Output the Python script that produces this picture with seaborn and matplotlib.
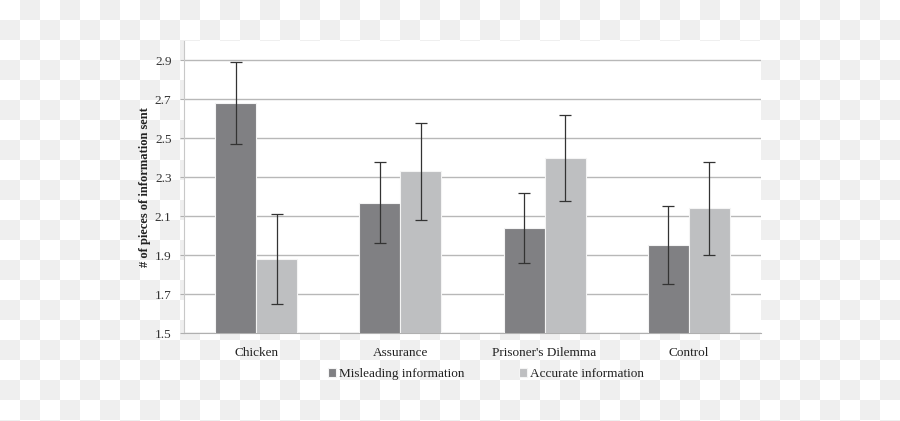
import numpy as np
import pandas as pd
import seaborn as sns
import matplotlib.pyplot as plt

# data
categories = ["Chicken", "Assurance", "Prisoner's Dilemma", "Control"]
series = ["Misleading information", "Accurate information"]
misleading = [2.68, 2.17, 2.04, 1.95]
accurate = [1.88, 2.33, 2.40, 2.14]
misleading_low = [2.47, 1.96, 1.86, 1.75]
misleading_high = [2.89, 2.38, 2.22, 2.15]
accurate_low = [1.65, 2.08, 2.18, 1.90]
accurate_high = [2.11, 2.58, 2.62, 2.38]
yticks = [1.5, 1.7, 1.9, 2.1, 2.3, 2.5, 2.7, 2.9]

df = pd.DataFrame({
    "Condition": categories * 2,
    "Type": [series[0]] * 4 + [series[1]] * 4,
    "Value": misleading + accurate,
})

sns.set_style("white")
plt.rcParams["font.family"] = ["Liberation Serif", "DejaVu Serif"]

fig = plt.figure(figsize=(9, 4.21), dpi=100)

# checkerboard backdrop (transparent-image look)
bg = fig.add_axes([0, 0, 1, 1])
rows, cols = 22, 45
board = np.ones((rows, cols, 3))
ii, jj = np.indices((rows, cols))
board[(ii + jj) % 2 == 1] = 0xef / 255
bg.imshow(board, extent=(0, cols * 20, rows * 20, 0), interpolation="nearest", aspect="auto")
bg.set_xlim(0, 900)
bg.set_ylim(421, 0)
bg.axis("off")

ax = fig.add_axes([184 / 900, 88 / 421, 577 / 900, 292 / 421])
ax.set_facecolor("white")

palette = ["#7f7f83", "#bebfc1"]
sns.barplot(data=df, x="Condition", y="Value", hue="Type", order=categories,
            hue_order=series, palette=palette, width=0.57, errorbar=None,
            edgecolor="#f4f4f4", linewidth=0.8, ax=ax, zorder=3)

lows = [misleading_low, accurate_low]
highs = [misleading_high, accurate_high]
vals = [misleading, accurate]
bar_groups = list(ax.containers)
for k, cont in enumerate(bar_groups):
    xs = [p.get_x() + p.get_width() / 2 for p in cont.patches]
    v = np.array(vals[k])
    yerr = [v - np.array(lows[k]), np.array(highs[k]) - v]
    ax.errorbar(xs, v, yerr=yerr, fmt="none", ecolor="#333333",
                elinewidth=0.9, capsize=4, capthick=0.9, zorder=4)

ax.set_ylim(1.5, 3.0)
ax.set_xlim(-0.5, 3.5)
ax.set_yticks(yticks)
ax.set_yticklabels([f"{t:.1f}" for t in yticks])
ax.grid(axis="y", color="#b8b8b8", linewidth=1, zorder=0)
ax.set_axisbelow(True)
for s in ["top", "right"]:
    ax.spines[s].set_visible(False)
ax.spines["left"].set_color("#c8c8c8")
ax.spines["bottom"].set_color("#b0b0b0")

ax.set_xticks(range(4))
ax.set_xticks([-0.5, 0.5, 1.5, 2.5, 3.5], minor=True)
ax.tick_params(axis="x", which="major", length=0, pad=10, labelsize=9.5, labelcolor="#222222")
ax.tick_params(axis="x", which="minor", length=3, color="#b0b0b0", direction="out")
ax.tick_params(axis="y", length=3, color="#b0b0b0", pad=6, labelsize=9.5, labelcolor="#333333", left=True)

ax.set_xlabel("")
ax.set_ylabel("# of pieces of information sent", fontsize=9, fontweight="bold", color="#222222")
ax.yaxis.set_label_coords(-0.058, 0.5)

ax.legend(loc="center", bbox_to_anchor=(486 / 900, 47 / 421), bbox_transform=fig.transFigure,
          ncol=2, frameon=False, fontsize=9.5, handlelength=0.6, handleheight=0.6,
          handletextpad=0.2, columnspacing=4.2, labelcolor="#222222")

fig.savefig("out.png", dpi=100)
